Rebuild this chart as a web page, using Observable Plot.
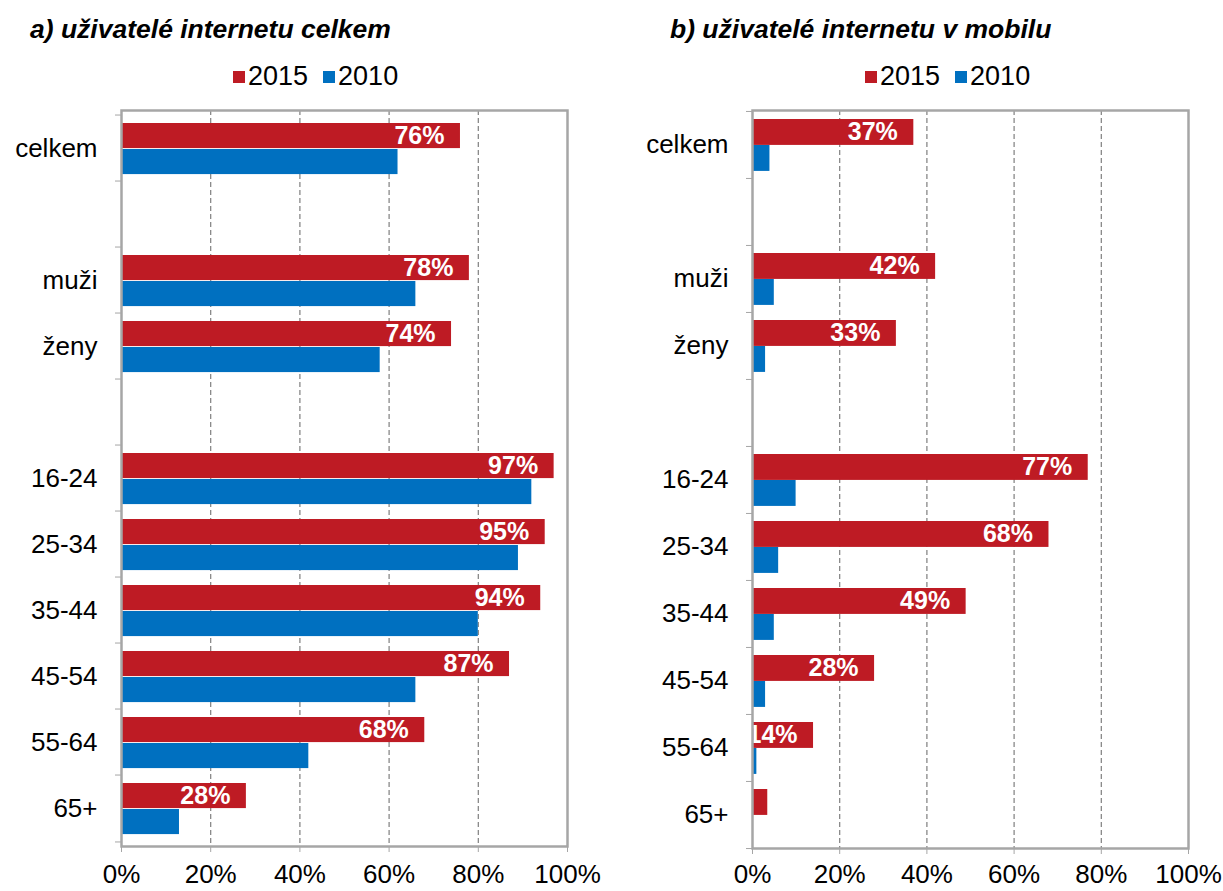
<!DOCTYPE html>
<html>
<head>
<meta charset="utf-8">
<script src="https://cdn.jsdelivr.net/npm/d3@7"></script>
<script src="https://cdn.jsdelivr.net/npm/@observablehq/plot@0.6"></script>
<style>
  body { margin: 0; background: #fff; }
  #root { position: relative; width: 1223px; height: 891px; font-family: "Liberation Sans", Arial, sans-serif; overflow: hidden; }
  .title { position: absolute; font-weight: bold; font-style: italic; font-size: 26.5px; color: #000; white-space: nowrap; }
  .legend { position: absolute; display: flex; align-items: center; font-size: 27px; color: #000; white-space: nowrap; }
  .sw { display: inline-block; width: 12px; height: 12px; margin-right: 3px; }
</style>
</head>
<body>
<div id="root"></div>
<script>
// ---- data ----
const categories = ["celkem", "_gap1", "muži", "ženy", "_gap2", "16-24", "25-34", "35-44", "45-54", "55-64", "65+"];
const groups = ["celkem", "muži", "ženy", "16-24", "25-34", "35-44", "45-54", "55-64", "65+"];
const years = ["2015", "2010"];
const titles = ["a) uživatelé internetu celkem", "b) uživatelé internetu v mobilu"];
const xTicks = [0, 20, 40, 60, 80, 100];
const gridTicks = [20, 40, 60, 80];

const internet2015 = [76, 78, 74, 97, 95, 94, 87, 68, 28];
const internet2010 = [62, 66, 58, 92, 89, 80, 66, 42, 13];
const mobile2015 = [37, 42, 33, 77, 68, 49, 28, 14, 3.5];
const mobile2010 = [4, 5, 3, 10, 6, 5, 3, 1, 0];

const RED = "#be1b24";
const BLUE = "#0070c0";
const GRAY = "#a6a6a6";

function rows(v15, v10) {
  return groups.map((g, i) => ({cat: g, v2015: v15[i], v2010: v10[i]}));
}

function panel(data, o) {
  const bw = (o.height - o.marginTop - o.marginBottom) / categories.length;
  const top = 8, bar = 26;
  return Plot.plot({
    width: o.width,
    height: o.height,
    marginLeft: o.marginLeft,
    marginRight: o.marginRight,
    marginTop: o.marginTop,
    marginBottom: o.marginBottom,
    style: {fontFamily: "'Liberation Sans', Arial, sans-serif", fontSize: "26px", background: "transparent", overflow: "visible"},
    x: {domain: [0, 100], axis: null},
    y: {domain: categories, padding: 0, axis: null},
    marks: [
      Plot.ruleX(gridTicks, {stroke: "#7f7f7f", strokeWidth: 1.2, strokeDasharray: "5,3"}),
      Plot.barX(data, {y: "cat", x: "v2015", fill: RED, insetTop: top, insetBottom: bw - top - bar}),
      Plot.barX(data, {y: "cat", x: "v2010", fill: BLUE, insetTop: top + bar, insetBottom: bw - top - 2 * bar}),
      Plot.text(data.filter(d => d.v2015 >= 10), {
        y: "cat", x: "v2015", text: d => Math.round(d.v2015) + "%",
        textAnchor: "end", dx: -16, dy: -(bw / 2 - top - bar / 2),
        fill: "#fff", fontWeight: "bold", fontSize: 25
      }),
      Plot.ruleY(categories, {y: d => d, x1: () => 0, x2: () => 0, insetLeft: -6, dy: -bw / 2, stroke: GRAY, strokeWidth: 1}),
      Plot.ruleY(categories.slice(-1), {y: d => d, x1: () => 0, x2: () => 0, insetLeft: -6, dy: bw / 2, stroke: GRAY, strokeWidth: 1}),
      Plot.axisY({label: null, tickSize: 0, tickPadding: 24, fontSize: 26, fill: "#000", tickFormat: d => d.startsWith("_") ? "" : d}),
      Plot.axisX({label: null, ticks: xTicks, tickFormat: d => d + "%", tickSize: 6, tickPadding: o.xPad, stroke: GRAY, fill: "#000", fontSize: 26}),
      Plot.frame({stroke: GRAY, strokeWidth: 2.5})
    ]
  });
}

const root = document.getElementById("root");

const svgA = panel(rows(internet2015, internet2010), {width: 620, height: 891, marginLeft: 121, marginRight: 53, marginTop: 110, marginBottom: 45, xPad: 12});
svgA.style.position = "absolute"; svgA.style.left = "0px"; svgA.style.top = "0px";
root.appendChild(svgA);

const svgB = panel(rows(mobile2015, mobile2010), {width: 603, height: 891, marginLeft: 132, marginRight: 35, marginTop: 110, marginBottom: 43, xPad: 10});
svgB.style.position = "absolute"; svgB.style.left = "620px"; svgB.style.top = "0px";
root.appendChild(svgB);

function addTitle(text, left) {
  const d = document.createElement("div");
  d.className = "title"; d.textContent = text;
  d.style.left = left + "px"; d.style.top = "14px";
  root.appendChild(d);
}
function addLegend(left) {
  const d = document.createElement("div");
  d.className = "legend";
  d.style.left = left + "px"; d.style.top = "61px";
  const colors = [RED, BLUE];
  years.forEach((y, i) => {
    const s = document.createElement("span"); s.className = "sw"; s.style.background = colors[i];
    const t = document.createElement("span"); t.textContent = y; t.style.marginRight = i === 0 ? "15px" : "0";
    d.appendChild(s); d.appendChild(t);
  });
  root.appendChild(d);
}
addTitle(titles[0], 30);
addTitle(titles[1], 670);
addLegend(233);
addLegend(865);
</script>
</body>
</html>
